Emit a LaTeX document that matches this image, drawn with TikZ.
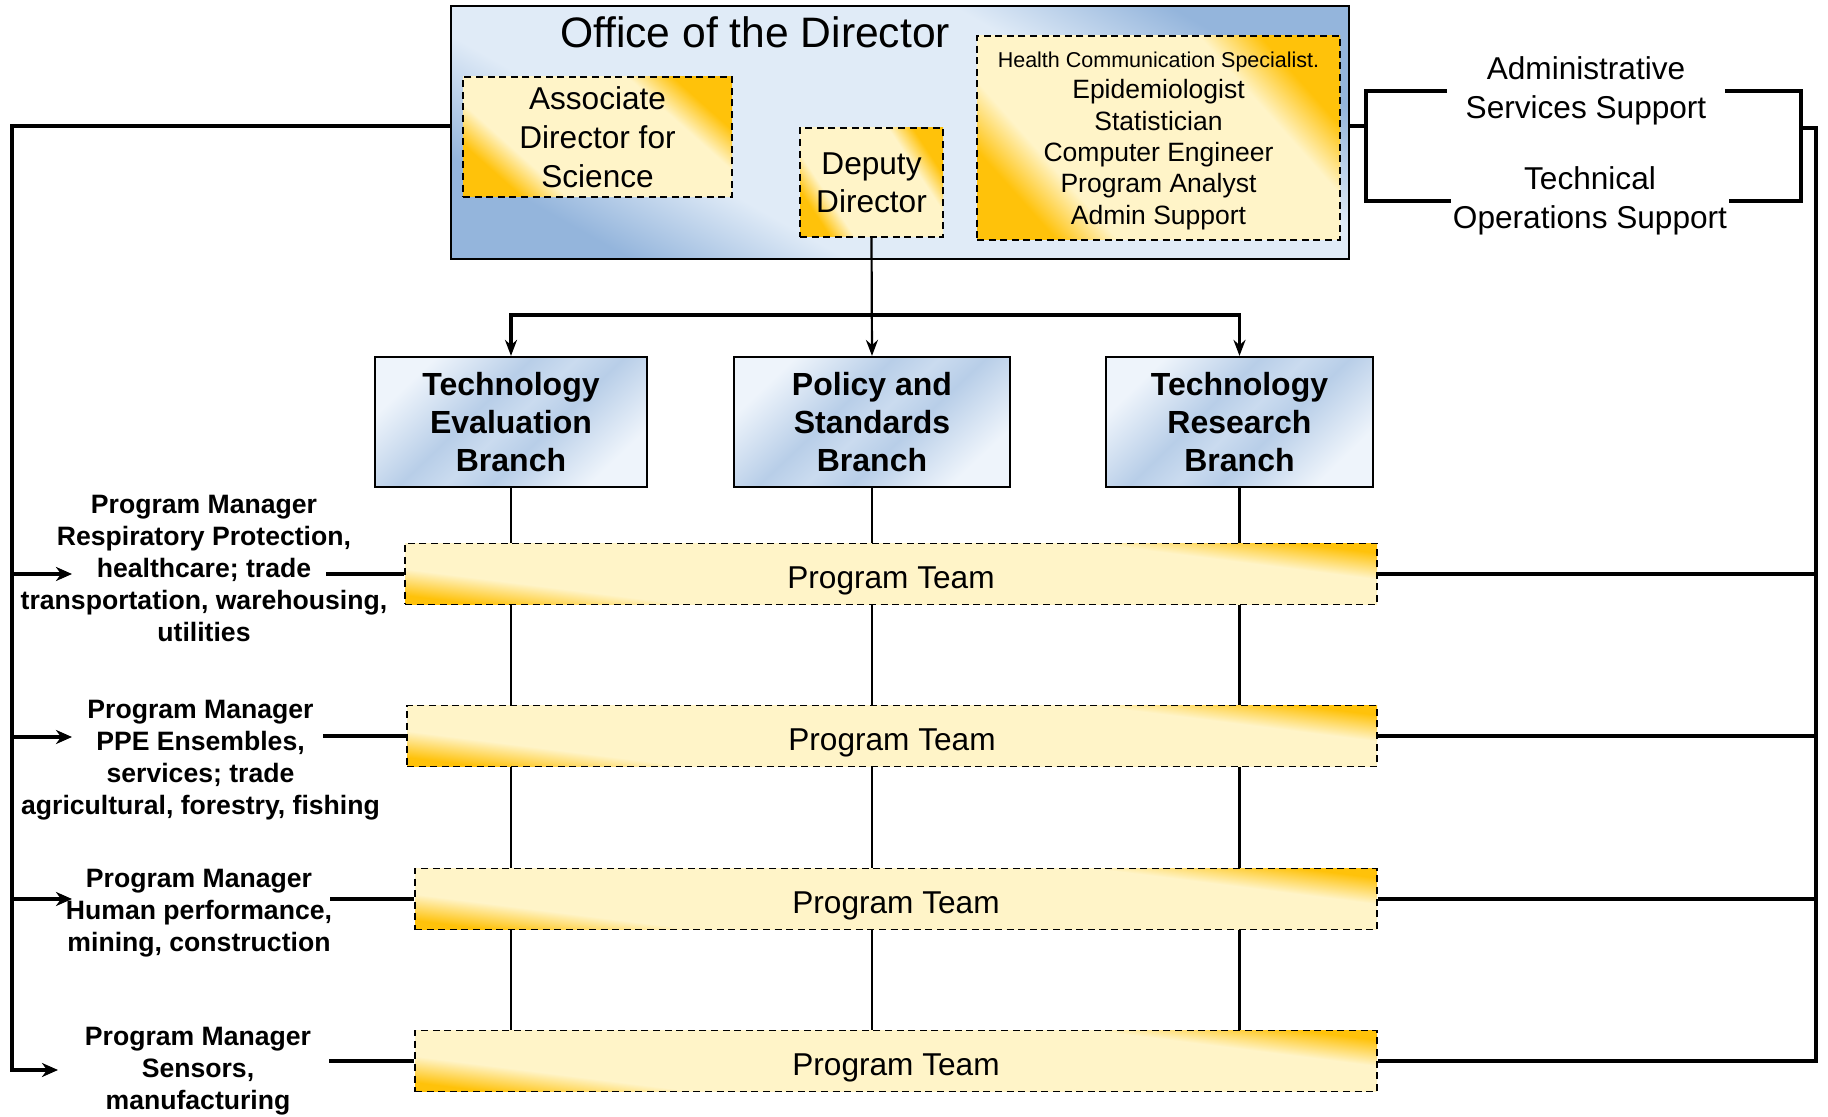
\documentclass[tikz,border=0pt]{standalone}
\usepackage{fontspec}
\setmainfont{Liberation Sans}
\usetikzlibrary{arrows.meta,backgrounds}

\definecolor{officedark}{RGB}{148,181,220}
\definecolor{officelight}{RGB}{224,235,247}
\definecolor{branchdark}{RGB}{184,206,232}
\definecolor{branchmid}{RGB}{202,219,239}
\definecolor{branchlight}{RGB}{238,244,251}
\definecolor{golddark}{RGB}{255,194,10}
\definecolor{goldlight}{RGB}{255,244,200}

\pgfdeclarehorizontalshading{officeshade}{100bp}{color(0bp)=(officedark); color(25bp)=(officedark); color(36bp)=(officelight); color(64bp)=(officelight); color(75bp)=(officedark); color(100bp)=(officedark)}
\pgfdeclarehorizontalshading{branchshade}{100bp}{color(0bp)=(branchlight); color(25bp)=(branchlight); color(42bp)=(branchdark); color(50bp)=(branchmid); color(58bp)=(branchdark); color(75bp)=(branchlight); color(100bp)=(branchlight)}
\pgfdeclarehorizontalshading{goldshade}{100bp}{color(0bp)=(golddark); color(25bp)=(golddark); color(33bp)=(goldlight); color(67bp)=(goldlight); color(75bp)=(golddark); color(100bp)=(golddark)}

\tikzset{
  office/.style={draw, line width=1.2pt, shade, shading=officeshade, inner sep=0pt},
  goldbox/.style={draw, line width=0.8pt, dash pattern=on 3.5pt off 2.3pt, shade, shading=goldshade, align=center, inner sep=0pt, text depth=0pt, font=\fontsize{15.8}{19.3}\selectfont},
  branch/.style={draw, line width=1.1pt, shade, shading=branchshade, align=center, inner sep=0pt, text depth=0pt, minimum height=65pt, font=\bfseries\fontsize{16}{19}\selectfont},
  team/.style={goldbox, minimum height=30.5pt, text height=14.6pt, shading angle=82.8},
  pmtext/.style={align=center, inner sep=0pt, font=\bfseries\fontsize{13.3}{16}\selectfont},
  support/.style={align=center, inner sep=0pt, minimum width=138.5pt, font=\fontsize{15.8}{19.3}\selectfont},
  link/.style={line width=1.8pt},
  thin link/.style={line width=1.1pt},
  down/.style={line width=1.8pt, -{Stealth[length=8pt,width=6pt]}},
  toward/.style={line width=1.6pt, -{Stealth[length=8pt,width=7pt,inset=2.5pt]}}
}

\begin{document}
\begin{tikzpicture}[x=0.5pt, y=-0.5pt]
\useasboundingbox (0,0) rectangle (1828,1117);

% office of the director
\node[office, minimum width=449pt, minimum height=126.5pt, shading angle=60.6] (office) at (900,132.5) {};
\node[font=\fontsize{21.3}{25}\selectfont] (title) at (755,32) {Office of the Director};
\node[goldbox, minimum width=134.5pt, minimum height=60pt, shading angle=48.3] (assoc) at (597.5,137) {Associate\\Director for\\Science};
\node[goldbox, minimum width=71.5pt, minimum height=54.5pt, shading angle=33.3] (deputy) at (871.5,182.5) {Deputy\\Director};
\node[goldbox, minimum width=181.5pt, minimum height=102pt, shading angle=41.7, text depth=-2pt, font=\fontsize{13.25}{15.7}\selectfont] (staff) at (1158.5,138)
  {{\fontsize{10.75}{13}\selectfont Health Communication Specialist.}\\Epidemiologist\\Statistician\\Computer Engineer\\Program Analyst\\Admin Support};

% support
\node[support] (admin) at (1586,91) {Administrative\\Services Support};
\node[support] (tech) at (1590,201) {Technical\\Operations Support};

% branches
\node[branch, minimum width=136pt, shading angle=-46.3] (teb) at (511,422) {Technology\\Evaluation\\Branch};
\node[branch, minimum width=138pt, shading angle=-46.7] (psb) at (872,422) {Policy and\\Standards\\Branch};
\node[branch, minimum width=133.5pt, shading angle=-45.8] (trb) at (1239.5,422) {Technology\\Research\\Branch};

% program teams
\node[team, minimum width=486pt] (team1) at (891,574) {Program Team};
\node[team, minimum width=485pt] (team2) at (892,736) {Program Team};
\node[team, minimum width=481pt] (team3) at (896,899) {Program Team};
\node[team, minimum width=481pt] (team4) at (896,1061) {Program Team};

% program managers
\node[pmtext] (pm1) at (204,568) {Program Manager\\Respiratory Protection,\\healthcare; trade\\transportation, warehousing,\\utilities};
\node[pmtext] (pm2) at (200.5,760) {Program Manager\\PPE Ensembles,\\services; trade\\agricultural, forestry, fishing};
\node[pmtext] (pm3) at (199,913) {Program Manager\\Human performance,\\mining, construction};
\node[pmtext] (pm4) at (198,1071) {Program Manager\\Sensors,\\manufacturing};

\coordinate (lbus) at (12,126);
\coordinate (pm1in) at (72,574);
\coordinate (pm2in) at (72,737);
\coordinate (pm3in) at (72,899);
\coordinate (pm4in) at (58,1070);
\coordinate (pm1out) at (326,574);
\coordinate (pm2out) at (323,736);
\coordinate (pm3out) at (330,899);
\coordinate (pm4out) at (329,1061);
\coordinate (brL) at (1366,126);
\coordinate (brR) at (1801,128);
\coordinate (rbus) at (1816,128);
\coordinate (bus) at (872,315);

% director to branches
\draw[thin link, -{Stealth[length=8pt,width=6pt]}] (deputy.south) -- (psb.north);
\draw[down] (bus) -| (teb.north);
\draw[down] (bus) -| (trb.north);

% branches through the teams
\begin{scope}[on background layer]
\foreach \b in {teb,psb,trb}
  \draw[thin link] (\b.south) -- (\b.south |- team4.north);
\end{scope}

% left side
\draw[toward] (office.west |- lbus) -- (lbus) |- (pm4in);
\draw[toward] (lbus |- pm1in) -- (pm1in);
\draw[toward] (lbus |- pm2in) -- (pm2in);
\draw[toward] (lbus |- pm3in) -- (pm3in);
\draw[link] (pm1out) -- (team1.west);
\draw[link] (pm2out) -- (team2.west);
\draw[link] (pm3out) -- (team3.west);
\draw[link] (pm4out) -- (team4.west);

% right side
\draw[link] (office.east |- brL) -- (brL);
\draw[link] (admin.west) -| (brL) |- (tech.west);
\draw[link] (admin.east) -| (brR) |- (tech.east);
\draw[link] (brR) -- (rbus) |- (team4.east);
\foreach \t in {team1,team2,team3}
  \draw[link] (\t.east) -- (\t.east -| rbus);

\end{tikzpicture}
\end{document}
